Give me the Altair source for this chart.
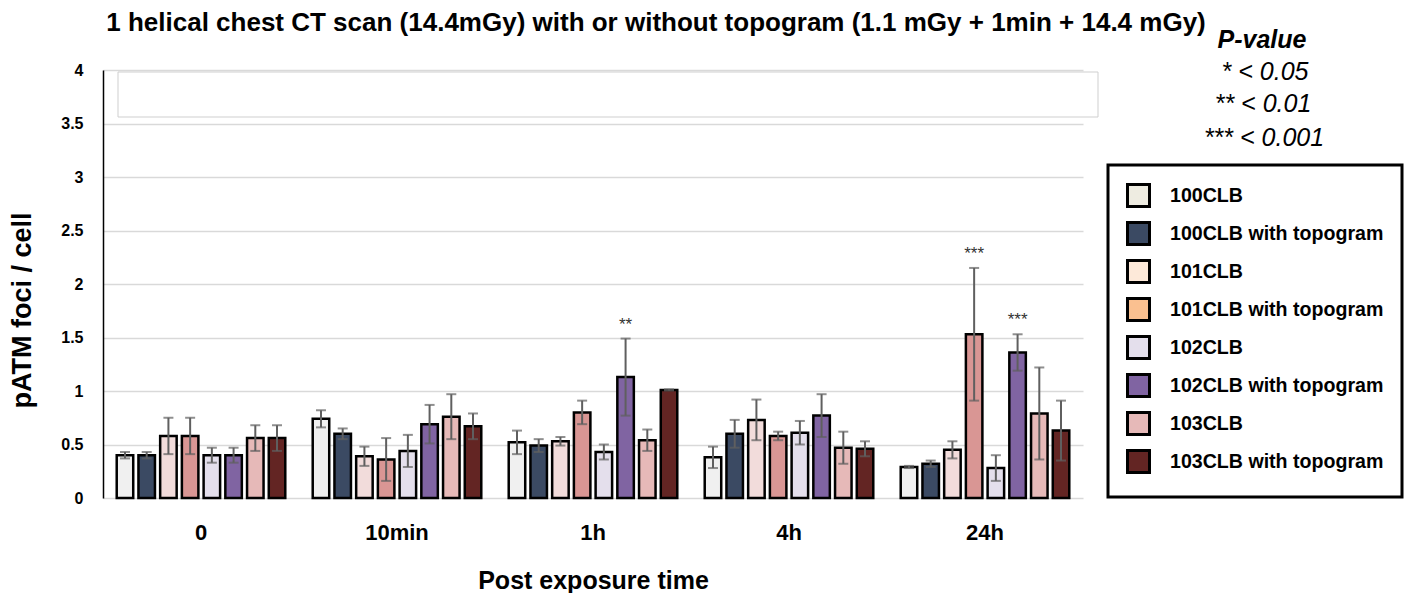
import altair as alt
import pandas as pd

times = ["0", "10min", "1h", "4h", "24h"]
series = ["100CLB", "100CLB with topogram", "101CLB", "101CLB with topogram",
          "102CLB", "102CLB with topogram", "103CLB", "103CLB with topogram"]

mean_100 = [0.40, 0.74, 0.52, 0.38, 0.29]
mean_100t = [0.40, 0.60, 0.49, 0.60, 0.32]
mean_101 = [0.58, 0.39, 0.53, 0.73, 0.45]
mean_101t = [0.58, 0.36, 0.80, 0.58, 1.53]
mean_102 = [0.40, 0.44, 0.43, 0.61, 0.28]
mean_102t = [0.40, 0.69, 1.13, 0.77, 1.36]
mean_103 = [0.56, 0.76, 0.54, 0.47, 0.79]
mean_103t = [0.56, 0.67, 1.01, 0.46, 0.63]

err_100 = [0.03, 0.08, 0.11, 0.10, 0.01]
err_100t = [0.03, 0.05, 0.06, 0.13, 0.03]
err_101 = [0.17, 0.09, 0.04, 0.19, 0.08]
err_101t = [0.17, 0.20, 0.11, 0.04, 0.62]
err_102 = [0.07, 0.15, 0.07, 0.11, 0.12]
err_102t = [0.07, 0.18, 0.36, 0.20, 0.17]
err_103 = [0.12, 0.21, 0.10, 0.15, 0.43]
err_103t = [0.12, 0.12, 0.005, 0.07, 0.28]

bar_colors = ["#f0f0f0", "#3b4a63", "#f2dcdb", "#d99694",
              "#e4dfec", "#8064a2", "#e6b9b8", "#632523"]
legend_colors = ["#eeece1", "#3b4a63", "#fde9d9", "#fac090",
                 "#e4dfec", "#8064a2", "#e6b9b8", "#632523"]

star_time = ["1h", "24h", "24h"]
star_series = ["102CLB with topogram", "101CLB with topogram", "102CLB with topogram"]
star_text = ["**", "***", "***"]

y_ticks = [0, 0.5, 1, 1.5, 2, 2.5, 3, 3.5, 4]

title_text = "1 helical chest CT scan (14.4mGy) with or without topogram (1.1 mGy + 1min + 14.4 mGy)"
pvalue_lines = ["P-value", "* < 0.05", "** < 0.01", "*** < 0.001"]

means = [mean_100, mean_100t, mean_101, mean_101t, mean_102, mean_102t, mean_103, mean_103t]
errs = [err_100, err_100t, err_101, err_101t, err_102, err_102t, err_103, err_103t]

rows = []
for s, ms, es in zip(series, means, errs):
    for t, m, e in zip(times, ms, es):
        rows.append({"time": t, "series": s, "mean": m, "lo": m - e, "hi": m + e})
df = pd.DataFrame(rows)

lookup = {(r["time"], r["series"]): r["hi"] for r in rows}
stars = pd.DataFrame({
    "time": star_time,
    "series": star_series,
    "star": star_text,
    "hi": [lookup[(t, s)] for t, s in zip(star_time, star_series)],
})

FONT = "Liberation Sans"

x = alt.X("time:N", sort=times,
          scale=alt.Scale(paddingInner=0.14, paddingOuter=0.07),
          axis=alt.Axis(title="Post exposure time", labelAngle=0, ticks=False, domain=False,
                        labelFont=FONT, labelFontSize=22, labelFontWeight="bold",
                        labelColor="black", labelPadding=24,
                        titleFont=FONT, titleFontSize=25, titleFontWeight="bold",
                        titleColor="black", titlePadding=25))
xo = alt.XOffset("series:N", sort=series, scale=alt.Scale(paddingInner=0.24))
y = alt.Y("mean:Q", scale=alt.Scale(domain=[0, 4]),
          axis=alt.Axis(title="pATM foci / cell", values=y_ticks, labelExpr="'' + datum.value",
                        grid=True, gridColor="#d9d9d9", gridWidth=1.5,
                        domain=True, domainColor="black", domainWidth=1.5, ticks=False,
                        labelFont=FONT, labelFontSize=16, labelFontWeight="bold",
                        labelColor="black", labelPadding=20,
                        titleFont=FONT, titleFontSize=27, titleFontWeight="bold",
                        titleColor="black", titlePadding=24, titleY=240))

bars = alt.Chart(df).mark_bar(stroke="black", strokeWidth=2.5).encode(
    x=x, xOffset=xo, y=y,
    fill=alt.Fill("series:N", sort=series,
                  scale=alt.Scale(range=bar_colors), legend=None),
)

err_rule = alt.Chart(df).mark_rule(color="#5f5f5f", strokeWidth=2).encode(
    x=x, xOffset=xo, y="lo:Q", y2="hi:Q")
cap_lo = alt.Chart(df).mark_tick(color="#5f5f5f", thickness=2, size=10).encode(
    x=x, xOffset=xo, y="lo:Q")
cap_hi = alt.Chart(df).mark_tick(color="#5f5f5f", thickness=2, size=10).encode(
    x=x, xOffset=xo, y="hi:Q")

star_marks = alt.Chart(stars).mark_text(fontSize=17, color="#333333", baseline="bottom",
                                        dy=-5, font=FONT).encode(
    x=x, xOffset=xo, y="hi:Q", text="star:N")

legend_layer = alt.Chart(df).mark_square(opacity=0).encode(
    x=x, xOffset=xo, y="mean:Q",
    color=alt.Color("series:N", sort=series, title=None,
                    scale=alt.Scale(domain=series, range=legend_colors),
                    legend=alt.Legend(orient="none", legendX=1005, legendY=95,
                                      symbolType="square", symbolSize=484,
                                      symbolStrokeColor="black", symbolStrokeWidth=3,
                                      symbolOpacity=1,
                                      labelFont=FONT, labelFontSize=19.6,
                                      labelFontWeight="bold", labelColor="black",
                                      labelLimit=400, labelOffset=19, rowPadding=3,
                                      padding=18, strokeColor="black",
                                      fillColor="white")),
)

frame_box = alt.Chart(pd.DataFrame({"k": [0]})).mark_rect(
    fillOpacity=0, stroke="#cfcfcf", strokeWidth=1).encode(
    x=alt.value(15), x2=alt.value(995), y=alt.value(2), y2=alt.value(47))


def label(text, px, py, size, weight="normal", style="normal", base="middle"):
    return alt.Chart(pd.DataFrame({"t": [text]})).mark_text(
        fontSize=size, fontWeight=weight, fontStyle=style, font=FONT,
        color="black", align="center", baseline=base).encode(
        x=alt.value(px), y=alt.value(py), text="t:N")


title_mark = label(title_text, 553, -39, 26, weight="bold", base="alphabetic")
pv0 = label(pvalue_lines[0], 1159, -30, 25, weight="bold", style="italic")
pv1 = label(pvalue_lines[1], 1162, 2, 25, style="italic")
pv2 = label(pvalue_lines[2], 1160, 34, 25, style="italic")
pv3 = label(pvalue_lines[3], 1161, 68, 25, style="italic")

chart = alt.layer(
    frame_box, bars, err_rule, cap_lo, cap_hi, star_marks, legend_layer,
    title_mark, pv0, pv1, pv2, pv3,
).properties(
    width=980, height=428,
    autosize=alt.AutoSizeParams(type="none"),
    padding={"left": 95, "top": 62, "right": 324, "bottom": 95},
).configure_view(strokeWidth=0).configure_legend(strokeWidth=3, cornerRadius=0)

chart.save("out.html", embed_options={"renderer": "svg", "actions": False})
